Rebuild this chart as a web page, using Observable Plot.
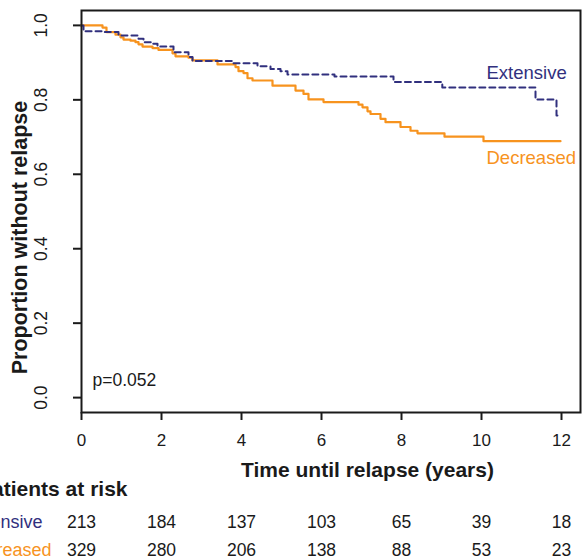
<!DOCTYPE html>
<html>
<head>
<meta charset="utf-8">
<script src="https://cdn.jsdelivr.net/npm/d3@7"></script>
<script src="https://cdn.jsdelivr.net/npm/@observablehq/plot@0.6"></script>
<style>
  body { margin: 0; background: #fff; }
</style>
</head>
<body>
<div id="chart"></div>
<script>
// ---- data ----
const groups = ["Extensive", "Decreased"];

const extTime = [0, 0.05, 0.55, 0.925, 1.425, 1.55, 1.775, 1.9, 2.3, 2.675, 2.775, 3.775, 4.4, 4.725, 4.975, 5.15, 6.325, 7.8, 9.02, 11.35, 11.875, 11.9];
const extSurv = [1.0, 0.984, 0.982, 0.973, 0.964, 0.955, 0.951, 0.943, 0.928, 0.915, 0.904, 0.898, 0.890, 0.883, 0.877, 0.868, 0.863, 0.848, 0.833, 0.801, 0.758, 0.758];

const decTime = [0, 0.525, 0.625, 0.85, 0.975, 1.05, 1.225, 1.35, 1.425, 1.525, 1.775, 1.925, 2.275, 2.35, 2.675, 2.775, 3.4, 3.85, 3.925, 4.05, 4.15, 4.275, 4.775, 5.35, 5.55, 5.675, 6.05, 6.925, 7.025, 7.15, 7.225, 7.475, 7.6, 7.975, 8.225, 8.4, 9.075, 10.05, 11.975];
const decSurv = [1.0, 0.994, 0.982, 0.975, 0.968, 0.962, 0.959, 0.955, 0.949, 0.943, 0.939, 0.934, 0.925, 0.917, 0.913, 0.906, 0.895, 0.888, 0.877, 0.872, 0.858, 0.852, 0.838, 0.825, 0.816, 0.801, 0.794, 0.787, 0.780, 0.769, 0.762, 0.749, 0.740, 0.727, 0.717, 0.710, 0.701, 0.689, 0.689];

const xTicks = [0, 2, 4, 6, 8, 10, 12];
const yTicks = [0, 0.2, 0.4, 0.6, 0.8, 1.0];
const extRisk = [213, 184, 137, 103, 65, 39, 18];
const decRisk = [329, 280, 206, 138, 88, 53, 23];

const pText = "p=0.052";
const xTitle = "Time until relapse (years)";
const yTitle = "Proportion without relapse";
const riskTitle = "Patients at risk";

// ---- build tables ----
const extData = extTime.map((t, i) => ({time: t, surv: extSurv[i], group: groups[0]}));
const decData = decTime.map((t, i) => ({time: t, surv: decSurv[i], group: groups[1]}));
const riskRows = xTicks.map((t, i) => ({time: t, ext: extRisk[i], dec: decRisk[i]}));

const BLUE = "#31307e";
const ORANGE = "#f7931e";
const INK = "#1a1a1a";

const plot = Plot.plot({
  width: 585,
  height: 560,
  marginLeft: 81,
  marginRight: 5,
  marginTop: 10,
  marginBottom: 148,
  x: {domain: [0, 12.475], axis: null, label: null},
  y: {domain: [-0.04, 1.04], axis: null, label: null},
  style: {
    fontFamily: "'Liberation Sans', Arial, Helvetica, sans-serif",
    fontSize: "17px",
    background: "#fff",
    color: INK
  },
  marks: [
    // axes
    Plot.axisX({ticks: xTicks, tickSize: 8, tickPadding: 13, strokeWidth: 2, stroke: INK, fill: INK, fontSize: 17, label: null, tickFormat: d => String(d)}),
    Plot.axisY({ticks: yTicks, tickSize: 8, strokeWidth: 2, stroke: INK, label: null, tickFormat: () => ""}),
    Plot.text(yTicks, {y: d => d, text: d => d.toFixed(1), frameAnchor: "left", rotate: -90, textAnchor: "middle", lineAnchor: "bottom", dx: -35, fontSize: 17.5, fill: INK}),
    // curves
    Plot.line(decData, {x: "time", y: "surv", curve: "step-after", stroke: ORANGE, strokeWidth: 2.2}),
    Plot.line(extData, {x: "time", y: "surv", curve: "step-after", stroke: BLUE, strokeWidth: 2, strokeDasharray: "6,4"}),
    Plot.frame({stroke: INK, strokeWidth: 2}),
    // in-plot labels
    Plot.text([groups[0]], {text: d => d, frameAnchor: "top-left", dx: 405, dy: 68, textAnchor: "start", lineAnchor: "bottom", fontSize: 18.5, fill: BLUE}),
    Plot.text([groups[1]], {text: d => d, frameAnchor: "top-left", dx: 405, dy: 153, textAnchor: "start", lineAnchor: "bottom", fontSize: 18.5, fill: ORANGE}),
    Plot.text([pText], {text: d => d, frameAnchor: "bottom-left", dx: 11, dy: -27, textAnchor: "start", lineAnchor: "bottom", fontSize: 17.5, fill: INK}),
    // axis titles
    Plot.text([xTitle], {text: d => d, frameAnchor: "bottom", dx: 36.5, dy: 64, textAnchor: "middle", lineAnchor: "bottom", fontSize: 21, fontWeight: "bold", fill: INK}),
    Plot.text([yTitle], {text: d => d, frameAnchor: "left", dx: -55, dy: 26, rotate: -90, textAnchor: "middle", lineAnchor: "bottom", fontSize: 21.5, fontWeight: "bold", fill: INK}),
    // at-risk table
    Plot.text([riskTitle], {text: d => d, frameAnchor: "bottom-left", dx: 46, dy: 83, textAnchor: "end", lineAnchor: "bottom", fontSize: 21, fontWeight: "bold", fill: INK}),
    Plot.text([groups[0]], {text: d => d, frameAnchor: "bottom-left", dx: -39, dy: 115, textAnchor: "end", lineAnchor: "bottom", fontSize: 18, fill: BLUE}),
    Plot.text([groups[1]], {text: d => d, frameAnchor: "bottom-left", dx: -30, dy: 143, textAnchor: "end", lineAnchor: "bottom", fontSize: 18, fill: ORANGE}),
    Plot.text(riskRows, {x: "time", text: "ext", frameAnchor: "bottom", dy: 115, textAnchor: "middle", lineAnchor: "bottom", fontSize: 17.5, fill: INK}),
    Plot.text(riskRows, {x: "time", text: "dec", frameAnchor: "bottom", dy: 143, textAnchor: "middle", lineAnchor: "bottom", fontSize: 17.5, fill: INK})
  ]
});

document.getElementById("chart").appendChild(plot);
</script>
</body>
</html>
